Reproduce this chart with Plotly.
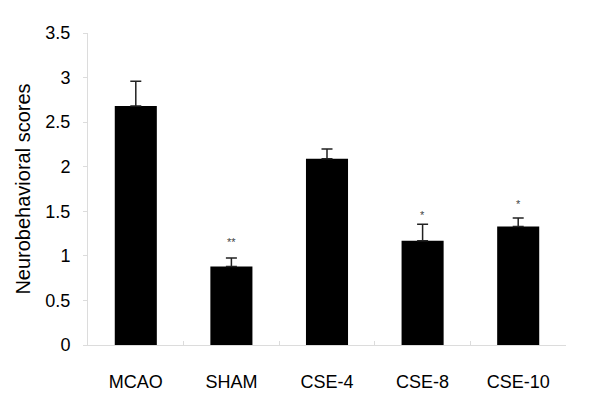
import plotly.graph_objects as go

categories = ["MCAO", "SHAM", "CSE-4", "CSE-8", "CSE-10"]
scores = [2.68, 0.88, 2.09, 1.17, 1.33]
errors = [0.28, 0.095, 0.11, 0.185, 0.095]
marks = ["", "**", "", "*", "*"]
mark_y = [None, 1.16, None, 1.46, 1.58]
y_ticks = [0, 0.5, 1, 1.5, 2, 2.5, 3, 3.5]
y_tick_labels = ["0", "0.5", "1", "1.5", "2", "2.5", "3", "3.5"]

font = "Liberation Sans, Arial, sans-serif"

fig = go.Figure()
fig.add_trace(go.Bar(
    x=categories, y=scores, width=0.44,
    marker=dict(color="black", line=dict(color="black", width=0)),
    error_y=dict(type="data", array=errors, arrayminus=[0]*len(errors), symmetric=False,
                 color="#222222", thickness=1.5, width=5.5),
))

for c, m, yv in zip(categories, marks, mark_y):
    if m:
        fig.add_annotation(x=c, y=yv, text=m, showarrow=False,
                           font=dict(family=font, size=11, color="#444444"))

fig.update_layout(
    width=600, height=396,
    margin=dict(l=80, r=42, t=25, b=59, autoexpand=False),
    plot_bgcolor="white", paper_bgcolor="white",
    showlegend=False,
    font=dict(family=font, size=18, color="black"),
)
fig.update_yaxes(
    range=[0, 3.5], tickvals=y_ticks, ticktext=y_tick_labels,
    showgrid=False, zeroline=False, automargin=False,
    showline=True, linecolor="#dcdcdc", linewidth=1,
    ticks="outside", ticklen=4, tickcolor="#dcdcdc",
    ticklabelstandoff=9,
    tickfont=dict(size=18),
    title=dict(text="Neurobehavioral scores", font=dict(size=20), standoff=9),
)
fig.update_xaxes(
    showgrid=False, zeroline=False, automargin=False,
    showline=True, linecolor="#dcdcdc", linewidth=1,
    ticks="inside", ticklen=4, tickcolor="#dcdcdc", tickson="boundaries",
    ticklabelstandoff=20,
    tickfont=dict(size=18),
)

fig.write_html("out.html")
